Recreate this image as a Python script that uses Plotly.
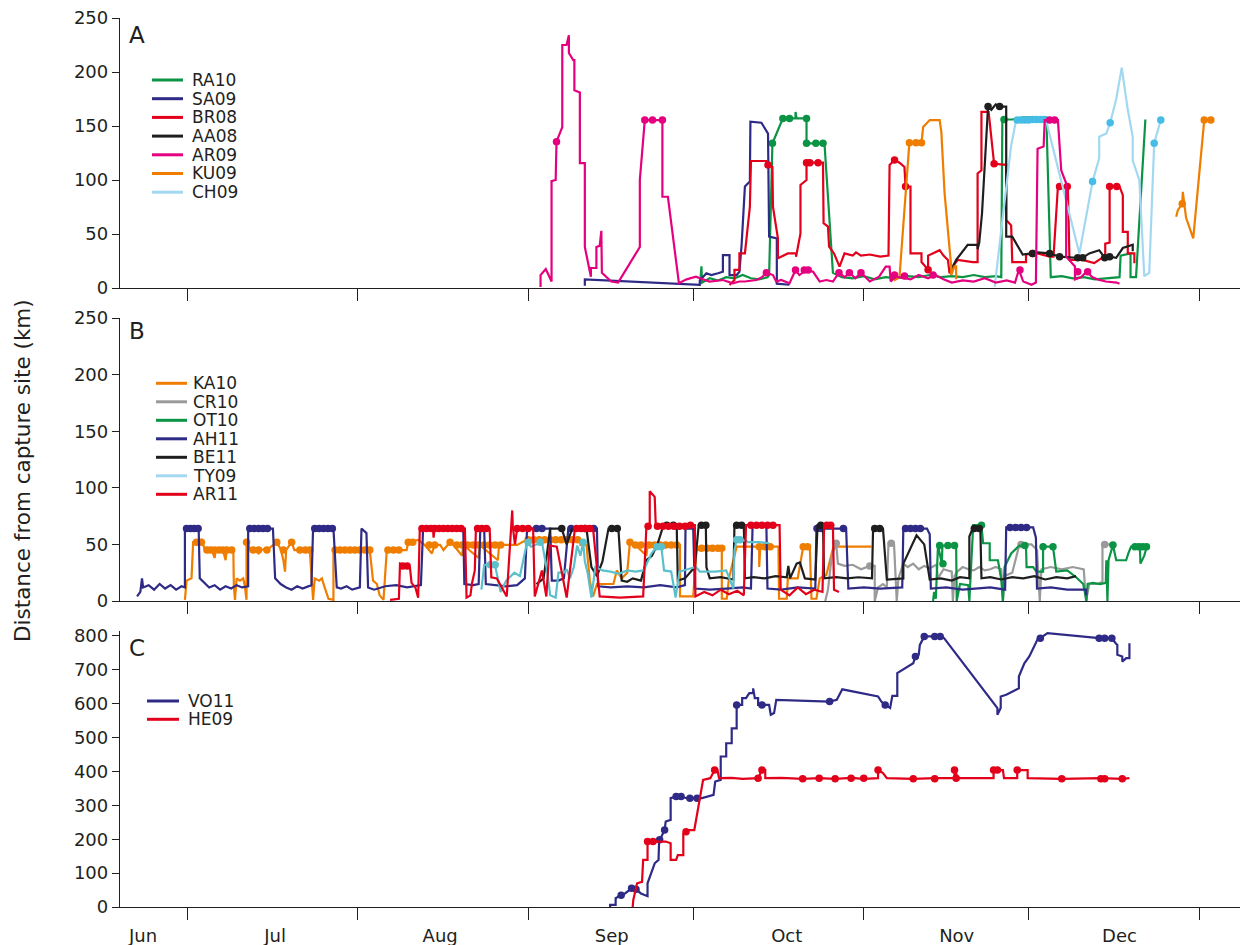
import pandas as pd
import plotly.graph_objects as go

BASE = pd.Timestamp("2011-07-01")  # day 0 = 1 July

# ---------------- Panel A  (day since 1 Jul, km) ----------------
RA10 = [(93.3,6),(93.5,20),(93.6,5),(95,9),(96.5,7),(98,10),(99.5,9),(101,12),(102.5,9),(104,8),(105.5,10),(105.8,12),
        (106.4,134),(108.3,157),(109.5,157),(110.6,157),(110.6,163),(110.8,157),(112.6,157),(112.6,134),(115.6,134),(115.9,131),
        (117.4,14),(119,10),(121,9),(123,11),(125,8),(127,10),(129,9),(131,11),(133,10),(135,12),(137,10),(139,11),(141,10),
        (143,12),(145,10),(147,11),(148,10),(148.2,156),(150,156),(152,158),(154,158),(156.2,158),(157,10),(159,11),(161,9),
        (163,10),(165,8),(167,9),(169.5,10),(169.7,30),(171.5,32),(171.5,10),(172.5,10),(174.2,156)]
RA10_DOTS = [(106.4,134),(108.3,157),(109.5,157),(112.6,157),(112.6,134),(114.3,134),(115.6,134),(148.5,156)]

SA09 = [(72.3,2),(72.3,8),(93.2,3),(93.2,7),(94.4,13.6),(95.3,12),(96.5,13.6),(97.4,15),(97.4,30.5),(98.6,30.5),(98.6,12),
        (99.9,12),(100.4,15),(100.8,40),(101.4,94),(102.3,98.5),(102.4,154),(104.4,153),(105.6,143),(105.8,47.5),(107.2,46),
        (107.2,4),(109.5,3)]

BR08 = [(98.6,2.8),(99.5,7.4),(99.5,16.7),(100.4,16.7),(100.4,32),(101.4,32),(102.3,75),(102.5,117.6),(105.3,117.6),
        (105.6,114),(106.4,112.3),(106.5,75),(107.4,46),(107.4,27.5),(109.2,32),(110.7,32),(110.7,29),(111.5,50.6),
        (111.5,95.4),(112.6,100),(112.6,116),(115.6,116),(115.6,111.7),(115.7,60),(116.5,56.8),(116.7,38.3),(117.6,32),
        (118.6,19.8),(119.5,32),(121,30),(121.6,33),(122.5,30),(124.1,31),(126,29),(127.5,30),(127.7,114),(128.6,118.5),
        (129.5,116),(130.4,112),(130.6,94),(131.5,94),(131.5,32),(133.5,32),(133.5,24),(134.7,17),(134.7,30),(136.8,35),
        (137.5,30),(138.3,26),(138.6,13.6),(139.2,20),(140.1,26),(142.8,24),(143.7,24),(143.7,106),(144.4,109),(144.4,163),
        (145.7,163),(146.7,115),(148.9,114),(148.9,63),(149.8,58),(150,24),(152.5,24),(152.5,31),(154.6,32),(156.8,29),
        (157.5,29),(158.3,94),(160.1,94),(160.4,26),(162.8,26),(164.9,23),(166.9,30),(166.9,41),(167.7,42),(167.7,94),
        (169.5,94),(170.1,86),(170.1,52),(171,52),(171,32),(172.2,32),(172.2,23)]
BR08_DOTS = [(105.6,114),(112.6,116),(113.2,116),(114.7,116),(128.6,118.5),(130.6,94),(134.7,17),(146.7,115),
             (153.7,32),(158.6,94),(160,94),(167.7,94),(169,94)]

AA08 = [(138.9,17),(139.8,26),(141.9,40),(143.7,40),(143.7,36),(144,42),(144.5,69),(145.3,135),(145.6,168),(146.2,165),
        (147,170),(147.7,168),(148.9,168),(148.9,47.5),(150,47.5),(151.9,31),(153.7,32),(154.6,33),(156.8,32),(158.6,29),
        (161.6,28),(162.8,28),(164,32),(165.8,35),(166.8,28),(167.7,29),(168.9,28),(170.1,37),(171.9,40),(171.9,34)]
AA08_DOTS = [(145.6,168),(147.7,168),(153.7,32),(156.8,32),(158.6,29),(161.9,28),(162.8,28),(166.8,28),(167.7,29)]

AR09 = [(64.25,1),(64.25,12),(65.2,17.6),(66.25,6),(66.25,99),(67.0,100),(67.15,135.5),(68.2,149),(68.2,225),(68.97,225),
        (69.4,234),(69.4,217.6),(70.2,211),(70.4,211),(70.4,183),(71.4,181),(71.4,115.7),(72.3,115.7),(72.3,38),(73.4,10.5),
        (73.4,18.5),(74.4,18.5),(74.4,38),(75.0,39),(75.3,53),(75.4,14),(77.1,6),(78.35,5),(82.3,38),(82.3,100),(83.2,155.5),
        (84.6,155.5),(86.4,155.5),(86.4,84.5),(87.4,84.5),(89.4,4.5),(90.8,8),(92.5,10.5),(93.2,9),(95,6),(97.4,7.4),
        (99.2,4.3),(100.4,6),(101.4,6),(103.5,7.4),(104.5,10),(105.3,14.2),(106.5,12),(107.1,5.9),(108,7.4),(109.5,4.3),
        (110.6,16.7),(111.3,12),(112.6,16.7),(113.8,15),(115,6),(116.2,7.4),(117.4,6),(118.5,14.2),(119.5,10),(120.4,14.2),
        (121.5,9),(122.5,14.2),(124.1,6),(125.8,10.5),(127,19.8),(127.7,19.8),(127.9,6),(128.8,10.5),(130.5,9),(131.5,8),
        (133,12),(134.7,9),(136,12),(137.5,8),(139,5),(141,7),(143,6),(145,9),(147,5),(149,7),(150.5,5),(151.2,16.7),
        (152,6),(153.5,3),(154.3,5),(154.6,129),(155.7,131),(155.9,155.5),(158.3,155.5),(158.9,109),(159.8,97),(159.8,29),
        (161.4,20),(161.4,8),(162.5,10),(163.5,15),(164.6,10),(165.5,8),(167,6),(169,5),(169.5,4)]
AR09_DOTS = [(67.15,135.5),(83.2,155.5),(84.6,155.5),(86.4,155.5),(105.3,14.2),(110.6,16.7),(112.2,16.7),(112.9,16.7),
             (118.5,14.2),(120.4,14.2),(122.5,14.2),(128.6,12),(130.4,11),(135.6,12),(151.4,16.7),(156.8,155.5),
             (157.7,155.5),(161.9,15),(163.7,15)]

KU09 = [(128.5,7),(129.5,10),(131.3,134.6),(132.5,134.6),(133.5,134.6),(133.8,149),(135,155.5),(136.8,155.5),(137.1,145),
        (137.7,87.6),(138.9,19.8),(138.9,12),(139.5,20),(139.8,20),(139.8,8),(None,None),
        (179.8,66),(180.1,72),(180.9,78),(181,89),(181.6,65),(182.2,57),(182.9,46),(184.9,155.5),(186.1,155.5)]
KU09_DOTS = [(131.3,134.6),(132.5,134.6),(133.5,134.6),(180.9,78),(184.9,155.5),(186.1,155.5)]

CH09 = [(146.8,1),(149.8,132),(150.7,155.5),(152,155.5),(153.5,156),(155,156),(156.2,156),(156.4,150),(162.2,32),
        (164.6,98.5),(165.8,120),(165.8,140),(167.1,143),(167.8,153),(168.9,175),(169.9,204),(171,165),(171.9,140),
        (171.9,118),(173.1,100),(174,11),(174.9,14),(175.8,134),(177,155.5)]
CH09_DOTS = [(150.9,155.5),(151.6,155.5),(152.3,155.5),(153,155.5),(153.7,156),(154.4,156),(155.1,156),(155.8,156),
             (164.6,98.5),(167.8,153),(175.8,134),(177,155.5)]

# ---------------- Panel B ----------------
KA10 = [(-0.4,1),(-0.1,18),(0.8,20),(1.1,52),(1.7,52),(2.6,54),(3.2,46),(3.6,45),(4.5,45),(5,38),(5.2,45),(6.5,45),(7,36),
        (7.2,45),(8.4,45),(8.5,13),(8.7,1),(9,20),(9.6,18),(10.2,20),(10.5,13),(10.8,1),(10.8,54),(11.5,45),(12.4,45),
        (13,42),(13.5,45),(15,47),(16.3,52),(17,46),(17.5,36),(17.8,26),(18,45),(19,52),(19.5,45),(22.3,45),(22.9,1),
        (23.2,20),(24,18),(24.5,20),(25,12),(25.7,2),(26.6,1),(26.6,45),(29.5,45),(33.2,45),(33.8,18),(34.5,15),(35,5),
        (35.7,1),(36.3,45),(39.9,45),(40.2,52),(42,54),(43.2,49.5),(44.5,42),(45,49.5),(46,49.5),(46.6,45),(47.8,52),
        (48.4,49.5),(50,40),(50.2,49.5),(53,38),(53.2,49.5),(56.5,36),(56.7,49.5),(60,49.5),(61.7,54),(71.4,54),
        (71.5,49.5),(72.6,49.5),(73.2,18),(73.8,4),(74.5,15),(77.5,15),(78.1,27),(79,20),(80,25),(80.5,52),(81.5,49.5),
        (83.5,40),(83.7,49.5),(89.6,49.5),(89.6,4),(92,4),(92.6,45),(97.2,46.5),(97.2,2),(98.1,2),(98.5,20),(99.9,48),
        (104,48),(104,30),(104.2,48),(107.5,48),(107.6,2),(109,2),(109.2,20),(111,20),(112,48),(113.2,48),(113.5,2),
        (114.4,2),(115,20),(116.2,23),(117.5,48),(124.4,48)]
KA10_DOTS = [(1.7,52),(2.6,52),(3.6,45),(4.3,45),(5,45),(5.8,45),(6.5,45),(7.2,45),(8.1,45),(10.8,52),(12,45),(13,45),
             (14.5,45),(16.3,52),(17.5,45),(19,52),(20.5,45),(21.5,45),(22.3,45),(26.9,45),(27.8,45),(28.7,45),(29.6,45),
             (30.5,45),(31.4,45),(32.3,45),(33.2,45),(36.5,45),(37.5,45),(38.5,45),(40.2,52),(41,52),(44,49.5),(45,49.5),
             (47.8,52),(49,49.5),(50,49.5),(51,49.5),(52,49.5),(53,49.5),(54,49.5),(55,49.5),(56,49.5),(57,49.5),
             (62,54),(63,54),(64,54),(65,54),(66,54),(67,54),(68,54),(69,54),(70,54),(71,54),(80.5,52),(81.5,49.5),
             (82.5,49.5),(84,49.5),(85,49.5),(86,49.5),(87,49.5),(88,49.5),(89,49.5),(93.5,46.5),(94.5,46.5),
             (95.5,46.5),(96.5,46.5),(97.2,46.5),(104,48),(105,48),(106,48),(112,48),(112.8,48)]

CR10 = [(116,0),(116.5,10),(117.2,40),(118,51),(118.3,33),(119.5,31),(121,32),(122.5,28),(124.1,31),(125,31),(125,0),
        (125.6,12),(126.5,15),(127.2,12),(127.5,51),(128.5,51),(129,0),(129.3,20),(130.2,33),(131,30),(132,33),(133,28),
        (134,31),(135,29),(136.2,32),(136.5,20),(137.5,28),(139,26),(139.2,0),(139.5,22),(140,26),(141,30),(142,28),
        (143,27),(144,30),(145,27),(146,28),(147,30),(148,28),(148.3,0),(148.6,22),(150,25),(151.3,50),(153.5,50),
        (154.5,45),(155,0),(155.3,28),(157,30),(159,28),(161,30),(163,28),(163.4,0),(164,15),(165.5,15),(166.4,17),
        (166.4,50),(168.3,50)]
CR10_DOTS = [(118,51),(124.1,31),(128,51),(151.6,50),(166.8,50)]

OT10 = [(135.6,0),(135.8,8),(136.1,2),(136.5,49),(137.2,33),(137.3,49),(139.8,49),(139.9,0),(140.5,15),(142,14),(142.2,0),
        (142.5,30),(142.9,67),(144.4,67),(144.7,51),(145.9,51),(145.9,36),(147.4,36),(148,19),(148.3,0),(148.6,30),
        (149.8,42),(151.3,49),(152.5,49),(152.6,30),(153.8,30),(154.4,26),(155.6,26),(155.6,48),(157.4,48),(158,26),
        (160,27),(161.6,21),(162.9,15),(163.5,0),(163.7,15),(164.7,16),(166,15),(167,16),(167.1,36),(167.3,0),(167.5,36),
        (168.3,49.5),(168.9,36),(170.7,36),(171.1,42),(171.6,48),(173.2,48),(173.3,33),(174,40),(174.4,48),(174.5,49)]
OT10_DOTS = [(136.8,49),(137.4,33),(138.3,49),(139.5,49),(144.4,67),(152.3,49),(155.6,48),(157.4,48),(168.3,49.5),
             (172.3,48),(173,48),(173.7,48),(174.4,48)]

AH11 = [(-9.1,4),(-8.5,8),(-8.2,20),(-8,12),(-7,14),(-6,10),(-5,15),(-4,11),(-3,14),(-2,10),(-1,13),(-0.4,12),(-0.4,64),
        (2.1,64),(2.3,20),(3,17),(4,12),(5,14),(6,10),(7,13),(8,11),(9,14),(10,12),(11.1,13),(11.1,64),(15.6,64),(16,20),
        (17,15),(18,12),(19,10),(20,13),(21,11),(22.6,14),(22.9,64),(26.6,64),(27.2,12),(28,11),(29,13),(30,10),(31.4,12),
        (31.7,64),(32.6,60),(32.9,12),(34,10),(36,13),(38,14),(40,12),(42.5,14),(42.9,64),(50.2,64),(50.4,15),(52,14),
        (53,15),(53.3,64),(54,64),(54.3,15),(56,14),(58,13),(60,14),(61.4,20),(61.8,64),(66,64),(66.3,18),(67.5,18),
        (68.5,20),(69.3,64),(74.5,64),(74.7,13),(77,12),(80,13),(83,12),(86,14),(89,12),(90.5,14),(90.6,64),(92,64),
        (92.3,11),(95,10),(98,11),(101,12),(102.5,11),(102.8,67),(105.3,67),(105.5,11),(108,10),(111,12),(114.2,11),
        (114.4,64),(119.8,64),(120.2,11),(123,12),(126,11),(130,12),(130.2,64),(134.5,64),(135,59),(135.2,11),(138,12),
        (141,10),(144,11),(146,12),(148.7,10),(148.9,65),(153.8,65),(154.3,56),(154.5,11),(157,12),(160,10),(163.4,10),
        (163.4,5)]
AH11_DOTS = [(-0.1,64),(0.6,64),(1.3,64),(2.0,64),(11.4,64),(12.2,64),(13,64),(13.8,64),(14.6,64),(23.2,64),(24,64),
             (24.8,64),(25.6,64),(26.4,64),(63.5,64),(64.5,64),(69.8,64),(73.9,64),(114.5,64),(115.3,64),(119.3,64),
             (130.6,64),(131.5,64),(132.4,64),(133.3,64),(149.6,65),(150.6,65),(151.6,65),(152.6,65)]

BE11 = [(63.5,15),(64.8,20),(65.5,45),(66,64),(67,64),(68.1,64),(69,50),(70,64),(72.6,64),(73.5,30),(74.5,22),(75.5,35),
        (76.6,64),(78.4,64),(79,18),(80,17),(81,20),(82.5,18),(83.5,36),(84.5,40),(85.5,50),(86.6,67),(89,67),(89.2,18),
        (90.5,20),(92.3,30),(93,67),(94.3,67),(94.4,30),(95,20),(97,21),(99.3,19),(99.5,67),(101.2,67),(101.4,20),
        (103,21),(105,20),(107,22),(109,21),(109.3,31),(109.6,20),(110.8,33),(111.4,34),(112.3,20),(114.2,19),(114.6,67),
        (115.6,67),(115.8,20),(118,21),(120,20),(122,21),(124.5,20),(124.7,64),(126.5,64),(127.2,19),(129,20),(130.2,20),
        (130.2,33),(132.6,58),(134,50),(135,19),(137,20),(139,18),(140.5,21),(142.2,20),(142.2,57),(142.8,64),(144.2,64),
        (144.4,20),(146,21),(148,19),(150,21),(152,20),(154,22),(156,19),(158,21),(160,20),(161.6,22)]
BE11_DOTS = [(68.1,64),(72.3,64),(77.2,64),(78.2,64),(87.2,67),(88.4,67),(93.5,67),(94.3,67),(99.9,67),(100.8,67),
             (115.2,67),(125,64),(125.9,64),(143.1,64),(144,64)]

TY09 = [(53.5,10),(54,32),(55,32),(56,31),(57,8),(58,18),(59.5,25),(60.5,22),(61.8,52),(62.5,48),(63.5,50),(64.5,52),
        (65.5,25),(66,5),(67,3),(67.5,25),(68.5,25),(69,28),(69.6,20),(70.3,30),(70.9,49),(71.5,40),(72,52),(72.3,35),
        (72.8,25),(73.5,3),(74.2,30),(75.5,27),(77,26),(78.5,24),(80,27),(81.5,26),(83,27),(84.4,42),(85.4,48),(86.2,48),
        (86.7,27),(88,26),(88.8,3),(89.5,26),(91,28),(92.5,30),(93.2,26),(96,26),(98,27),(99.3,11),(99.5,45),(99.9,54),
        (101,54),(102,52),(104,52),(105.8,51)]
TY09_DOTS = [(55.1,32),(56,32),(62,52),(64.2,52),(72,52),(85.4,48),(86.2,48),(99.9,54),(100.5,54)]

AR11 = [(36.9,1),(38.5,2),(38.7,33),(40,31),(40.5,30),(40.8,16),(41.5,12),(42,3),(42.3,64),(44.7,64),(44.8,56),(45,64),
        (50.5,64),(50.8,3),(51.5,5),(51.8,16),(52.3,27),(52.5,64),(55,64),(55.3,21),(56.3,20),(58.1,4),(58.7,50),
        (59.1,80),(59.2,66),(59.6,50),(60,64),(62.9,64),(63.2,4),(64.5,27),(65.3,4),(65.9,49),(67.2,48),(69,3),(70.5,64),
        (73.8,64),(75,4),(78.7,3),(82.9,4),(83.5,66),(84.1,66),(84.1,97),(85,92),(85.2,66),(92.3,67),(92.4,4),(94,8),
        (95.5,5),(97,10),(98.5,6),(100,9),(101.2,5),(101.6,67),(107.7,67),(107.9,10),(109.5,5),(111,12),(112.5,6),
        (114,10),(115.5,8),(115.8,67),(117.4,67),(117.6,10),(118.5,8)]
AR11_DOTS = [(39.2,31),(40,31),(42.7,64),(43.5,64),(44.3,64),(45,64),(45.8,64),(46.6,64),(47.4,64),(48.2,64),(49,64),
             (49.8,64),(52.8,64),(53.6,64),(54.4,64),(60,64),(61,64),(62,64),(70.8,64),(71.6,64),(72.4,64),(73.2,64),
             (83.8,66),(85.5,66),(86.5,66),(87.5,66),(88.5,66),(89.5,66),(90.5,66),(91.5,67),(102.5,67),(103.5,67),
             (104.5,67),(105.5,67),(106.5,67),(116.3,67),(117,67)]

# ---------------- Panel C ----------------
VO11 = [(76.9,0),(76.9,6),(77.9,6),(77.9,26),(78.9,35),(79.6,40),(80.8,55),(81.6,52),(82.5,40),(83.7,32),(83.7,70),
        (85,129),(85.7,139),(85.8,193),(86.8,227),(87,252),(87.9,257),(87.9,321),(88.9,326),(89.8,326),(90.8,321),
        (92.2,321),(93.6,321),(95.7,331),(96,370),(97,375),(97,444),(98,444),(98,483),(99,483),(99,527),(99.9,527),
        (99.9,596),(100.9,596),(100.9,616),(101.6,616),(102.2,631),(102.9,631),(102.9,645),(103.2,616),(103.8,616),
        (103.8,596),(105.8,596),(106.1,567),(106.7,572),(107.1,611),(116.8,606),(118.1,611),(119.1,642),(125.6,621),
        (126.2,606),(126.9,596),(127.8,587),(128.2,623),(129.1,623),(129.1,690),(132,719),(132.4,739),(133,744),
        (133.2,773),(134,798),(136.9,798),(137.6,793),(147.3,587),(147.3,567),(147.9,587),(147.9,621),(148.9,626),
        (151.2,645),(151.2,680),(152.2,719),(153.1,739),(154.1,773),(154.8,796),(155.1,793),(156.4,808),(165.8,793),
        (168.1,793),(168.8,778),(169.1,773),(169.1,744),(170,739),(170,724),(170.7,734),(171.3,734),(171.3,778)]
VO11_DOTS = [(78.9,35),(80.8,55),(81.6,52),(85.9,198),(86.8,227),(88.9,326),(89.8,326),(91.4,321),(92.7,321),
             (99.9,596),(104.5,596),(116.8,606),(126.9,596),(132.4,739),(134,798),(135.9,798),(136.9,798),(155.1,793),
             (165.8,793),(166.8,793),(168.1,793)]

HE09 = [(81,0),(81.1,20),(81.8,70),(82.7,74),(82.9,139),(83.7,139),(83.7,193),(84.7,193),(87,193),(87.9,188),(87.9,139),
        (88.9,139),(89.2,153),(90.2,153),(90.2,217),(91,227),(92.2,227),(93.8,375),(95.1,380),(95.9,404),(96.4,404),
        (96.7,380),(99,381),(101,378),(103.8,380),(104.5,404),(105.1,404),(105.1,380),(108,381),(111.9,378),(114.9,380),
        (117.8,378),(120.7,381),(123,378),(125.6,380),(125.6,404),(126.5,395),(127.2,380),(132,378),(135.9,380),
        (139.5,380),(139.5,404),(139.8,395),(140,380),(146.6,380),(146.6,404),(148.3,404),(148.5,380),(150.9,380),
        (150.9,404),(152.8,404),(152.8,380),(159,378),(166.1,380),(170,378),(171.3,380)]
HE09_DOTS = [(83.7,193),(84.7,193),(90.7,222),(95.9,404),(103.8,380),(104.5,404),(111.9,378),(114.9,380),(117.8,378),
             (120.7,380),(123,380),(125.6,404),(132,378),(135.9,378),(139.5,404),(139.8,380),(146.6,404),(147.3,404),
             (150.9,404),(159,378),(166.1,378),(166.8,378),(170,378)]

MONTHS = ["Jun", "Jul", "Aug", "Sep", "Oct", "Nov", "Dec"]
MONTH_LABEL_DAYS = [-8, 16, 46, 77.2, 109, 139.9, 169.5]

# colours
GREEN, NAVY, RED, BLACK = "#0B9444", "#2E2A86", "#E2001A", "#1E1E1E"
MAGENTA, ORANGE, LIGHTBLUE, GREY = "#E4007F", "#EF7D00", "#A3D8F1", "#9A9A9A"
CYAN_DOT, TEAL = "#45BDE6", "#5CC0CB"

PANEL_A = [("RA10", RA10, RA10_DOTS, GREEN, GREEN, GREEN), ("SA09", SA09, [], NAVY, NAVY, NAVY),
           ("BR08", BR08, BR08_DOTS, RED, RED, RED), ("AA08", AA08, AA08_DOTS, BLACK, BLACK, BLACK),
           ("KU09", KU09, KU09_DOTS, ORANGE, ORANGE, ORANGE), ("CH09", CH09, CH09_DOTS, LIGHTBLUE, CYAN_DOT, LIGHTBLUE),
           ("AR09", AR09, AR09_DOTS, MAGENTA, MAGENTA, MAGENTA)]
LEGEND_A = ["RA10", "SA09", "BR08", "AA08", "AR09", "KU09", "CH09"]
PANEL_B = [("KA10", KA10, KA10_DOTS, ORANGE, ORANGE, ORANGE), ("CR10", CR10, CR10_DOTS, GREY, GREY, GREY),
           ("OT10", OT10, OT10_DOTS, GREEN, GREEN, GREEN), ("AH11", AH11, AH11_DOTS, NAVY, NAVY, NAVY),
           ("BE11", BE11, BE11_DOTS, BLACK, BLACK, BLACK), ("TY09", TY09, TY09_DOTS, TEAL, TEAL, LIGHTBLUE),
           ("AR11", AR11, AR11_DOTS, RED, RED, RED)]
LEGEND_B = ["KA10", "CR10", "OT10", "AH11", "BE11", "TY09", "AR11"]
PANEL_C = [("VO11", VO11, VO11_DOTS, NAVY, NAVY, NAVY), ("HE09", HE09, HE09_DOTS, RED, RED, RED)]
LEGEND_C = ["VO11", "HE09"]

FONT = "DejaVu Sans"
W, H = 1242, 945
ML, MR, MT, MB = 120, 2, 18, 38


def day(d):
    return None if d is None else BASE + pd.Timedelta(days=d)


def px(x):  # page pixel -> paper x
    return (x - ML) / (W - ML - MR)


def py(y):  # page pixel -> paper y
    return (H - MB - y) / (H - MT - MB)


fig = go.Figure()


def add_panel(series, ax):
    for name, pts, dots, col, dcol, _ in series:
        fig.add_trace(go.Scatter(x=[day(d) for d, _ in pts], y=[v for _, v in pts], mode="lines", name=name,
                                 line=dict(color=col, width=2.2), xaxis="x" + ax, yaxis="y" + ax,
                                 showlegend=False, connectgaps=False, hoverinfo="skip"))
        if dots:
            fig.add_trace(go.Scatter(x=[day(d) for d, _ in dots], y=[v for _, v in dots], mode="markers", name=name,
                                     marker=dict(color=dcol, size=7.5), xaxis="x" + ax, yaxis="y" + ax,
                                     showlegend=False, hoverinfo="skip", cliponaxis=False))


add_panel(PANEL_A, "")
add_panel(PANEL_B, "2")
add_panel(PANEL_C, "3")

AXC = "#231F20"
xcommon = dict(range=[day(-12.2), day(191.4)], showline=True, linecolor=AXC, linewidth=1.3, showgrid=False,
               zeroline=False, tickmode="array", tickvals=[day(d) for d in MONTH_LABEL_DAYS], ticktext=MONTHS,
               ticks="outside", ticklen=12, tickcolor="rgba(0,0,0,0)", automargin=False,
               tickfont=dict(family=FONT, size=18, color=AXC),
               minor=dict(ticks="outside", ticklen=12, tickwidth=1.3, tickcolor=AXC, dtick="M1",
                          tick0="2011-07-01", showgrid=False))
ycommon = dict(showline=True, linecolor=AXC, linewidth=1.3, showgrid=False, zeroline=False, ticks="outside",
               ticklen=7, tickwidth=1.3, tickcolor=AXC, automargin=False,
               tickfont=dict(family=FONT, size=18, color=AXC))

fig.update_layout(
    width=W, height=H, margin=dict(l=ML, r=MR, t=MT, b=MB, autoexpand=False),
    paper_bgcolor="white", plot_bgcolor="white", showlegend=False,
    xaxis=dict(xcommon, anchor="y", domain=[0, 1], showticklabels=False),
    xaxis2=dict(xcommon, anchor="y2", domain=[0, 1], showticklabels=False, matches="x"),
    xaxis3=dict(xcommon, anchor="y3", domain=[0, 1], matches="x"),
    yaxis=dict(ycommon, anchor="x", domain=[py(288), 1], range=[0, 250], dtick=50),
    yaxis2=dict(ycommon, anchor="x2", domain=[py(601), py(318)], range=[0, 250], dtick=50),
    yaxis3=dict(ycommon, anchor="x3", domain=[0, py(630.7)], range=[0, 815], dtick=100),
)

shapes, annos = [], []


def manual_legend(names, series, x0, x1, xt, y0, step):
    colors = {s[0]: s[5] for s in series}
    for i, n in enumerate(names):
        yy = py(y0 + i * step)
        shapes.append(dict(type="line", xref="paper", yref="paper", x0=px(x0), x1=px(x1), y0=yy, y1=yy,
                           line=dict(color=colors[n], width=3)))
        annos.append(dict(text=n, xref="paper", yref="paper", x=px(xt), y=yy, xanchor="left", yanchor="middle",
                          showarrow=False, font=dict(family=FONT, size=17, color=AXC)))


manual_legend(LEGEND_A, PANEL_A, 152, 183, 190, 80, 18.7)
manual_legend(LEGEND_B, PANEL_B, 156, 187, 191, 383.3, 18.5)
manual_legend(LEGEND_C, PANEL_C, 147, 179, 186, 701, 18.3)

for letter, ypix in [("A", 35), ("B", 331), ("C", 648)]:
    annos.append(dict(text=letter, xref="paper", yref="paper", x=px(127), y=py(ypix), xanchor="left",
                      yanchor="middle", showarrow=False, font=dict(family=FONT, size=23, color=AXC)))

annos.append(dict(text="Distance from capture site (km)", xref="paper", yref="paper", x=px(22), y=py(471),
                  xanchor="center", yanchor="middle", textangle=-90, showarrow=False,
                  font=dict(family=FONT, size=21.5, color=AXC)))

fig.update_layout(shapes=shapes, annotations=annos)
fig.write_html("out.html", config={"displayModeBar": False},
               post_script="document.body.style.margin='0px';document.body.style.overflow='hidden';")
